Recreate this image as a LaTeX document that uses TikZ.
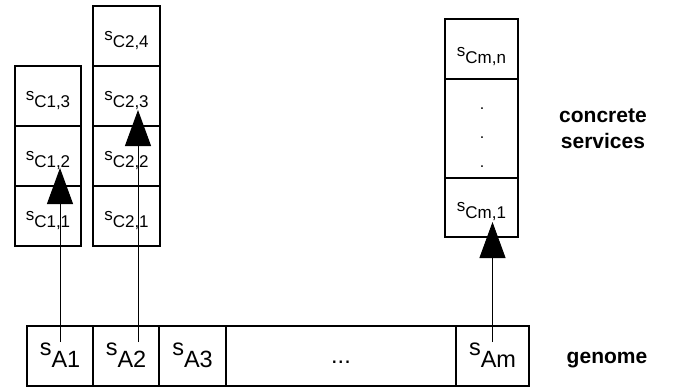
\documentclass[tikz,border=0pt]{standalone}
\usepackage{fontspec}
\setmainfont{Liberation Sans}
\usetikzlibrary{arrows.meta}
\newcommand{\svc}[1]{s\raisebox{-0.42em}{#1}}
\newcommand{\gsv}[1]{s\raisebox{-0.55em}{#1}}
\begin{document}
\begin{tikzpicture}[x=1pt,y=-1pt,
  box/.style={draw, line width=1.2pt, inner sep=0pt, outer sep=0pt},
  cc/.style={box, font=\fontsize{17}{20}\selectfont, text height=12pt, text depth=4pt},
  gc/.style={box, minimum height=60pt, font=\fontsize{23.5}{28}\selectfont, text height=14pt, text depth=16pt},
  dotnode/.style={inner sep=0pt, anchor=base, font=\fontsize{16}{19}\selectfont},
  side/.style={inner sep=0pt, anchor=base, font=\fontsize{21}{25}\selectfont\bfseries},
  arr/.style={line width=1pt, -{Triangle[width=26pt,length=36pt]}}
]
\useasboundingbox (0,0) rectangle (673,389);

% column C1
\node[cc, minimum width=66pt, minimum height=60pt] (c13) at (48,96) {\svc{C1,3}};
\node[cc, minimum width=66pt, minimum height=60pt] (c12) at (48,156) {\svc{C1,2}};
\node[cc, minimum width=66pt, minimum height=60pt] (c11) at (48,216) {\svc{C1,1}};

% column C2
\node[cc, minimum width=67pt, minimum height=60pt] (c24) at (126.5,36) {\svc{C2,4}};
\node[cc, minimum width=67pt, minimum height=60pt] (c23) at (126.5,96) {\svc{C2,3}};
\node[cc, minimum width=67pt, minimum height=60pt] (c22) at (126.5,156) {\svc{C2,2}};
\node[cc, minimum width=67pt, minimum height=60pt] (c21) at (126.5,216) {\svc{C2,1}};

% column Cm
\node[cc, minimum width=73pt, minimum height=60pt, text height=14pt, text depth=0pt] (cmn) at (481.5,49) {\svc{Cm,n}};
\node[box, minimum width=73pt, minimum height=99pt] (cmd) at (481.5,128.5) {};
\node[cc, minimum width=73pt, minimum height=59pt] (cm1) at (481.5,207.5) {\svc{Cm,1}};
\node[dotnode] (d1) at (482,109) {.};
\node[dotnode] (d2) at (482,138) {.};
\node[dotnode] (d3) at (482,167) {.};

% genome
\node[gc, minimum width=66pt] (a1) at (60,356) {\gsv{A1}};
\node[gc, minimum width=66pt] (a2) at (126,356) {\gsv{A2}};
\node[gc, minimum width=67pt] (a3) at (192.5,356) {\gsv{A3}};
\node[gc, minimum width=230pt, text height=14pt, text depth=0pt] (ad) at (341,356) {...};
\node[gc, minimum width=73pt] (am) at (492.5,356) {\gsv{Am}};

% side labels
\node[side] (lc1) at (603,122) {concrete};
\node[side] (lc2) at (603,148) {services};
\node[side] (lg) at (607,363) {genome};

% arrows
\coordinate (t1) at (60,168);
\coordinate (t2) at (138,110);
\coordinate (tm) at (492.5,222);
\draw[arr] ([yshift=14pt]a1.center) -- (t1);
\draw[arr] ([xshift=12pt,yshift=14pt]a2.center) -- (t2);
\draw[arr] ([yshift=14pt]am.center) -- (tm);
\end{tikzpicture}
\end{document}
